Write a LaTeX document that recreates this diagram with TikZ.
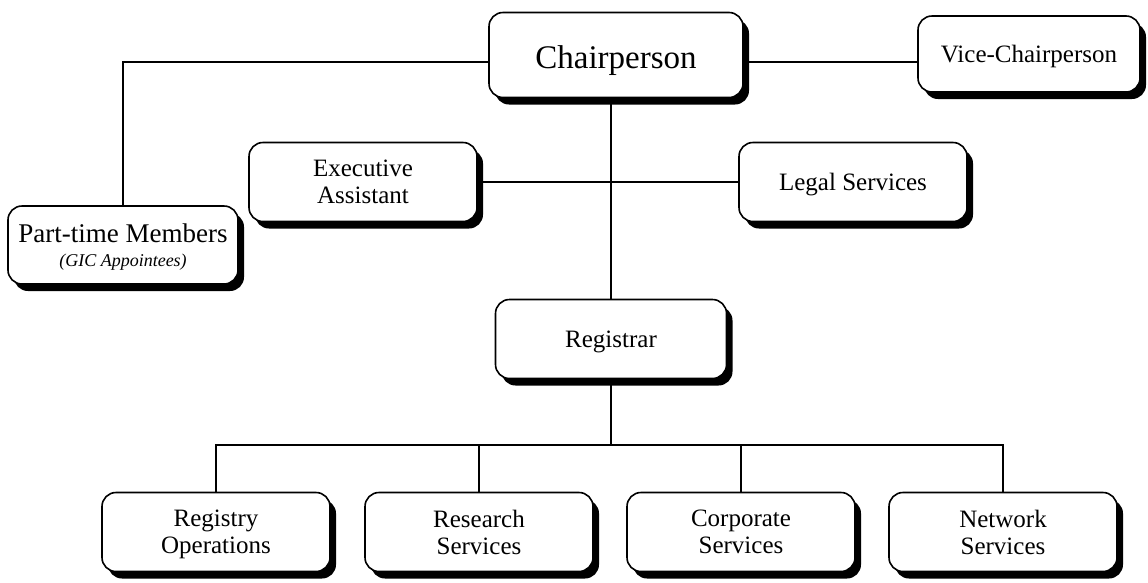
\documentclass[tikz,border=0pt]{standalone}
\usepackage{fontspec}
\setmainfont{Liberation Serif}
\usetikzlibrary{shadows}
\begin{document}
\begin{tikzpicture}[x=1pt, y=-1pt,
		orgbox/.style={draw, line width=1.6pt, fill=white, rounded corners=14pt,
			minimum width=228pt, minimum height=79pt, align=center, text depth=0pt, font=\fontsize{25}{27}\selectfont,
			drop shadow={shadow xshift=6pt, shadow yshift=-7pt, fill=black, opacity=1}},
		link/.style={line width=1.3pt}]

				\useasboundingbox (0,0) rectangle (1148,582);

				\node [orgbox, minimum width=254pt, minimum height=85pt, font=\fontsize{33}{36}\selectfont] (chair) at (616,55) {\raisebox{-4pt}{Chairperson}};
				\node [orgbox, minimum width=222pt, minimum height=76pt] (vice) at (1029,54) {Vice-Chairperson};
				\node [orgbox] (exec) at (363,182) {Executive\\Assistant};
				\node [orgbox] (legal) at (853,182) {Legal Services};
				\node [orgbox, minimum width=230pt, minimum height=78pt, font=\fontsize{27}{26}\selectfont] (parttime) at (123,245) {Part-time Members\\[-2pt]{\fontsize{18}{20}\selectfont\itshape(GIC Appointees)}};
				\node [orgbox, minimum width=231pt] (registrar) at (611,339) {Registrar};

				\node [orgbox] (registry) at (216,532) {Registry\\Operations};
				\node [orgbox] (research) at (479,532) {Research\\Services};
				\node [orgbox] (corporate) at (741,532) {Corporate\\Services};
				\node [orgbox] (network) at (1003,532) {Network\\Services};

				\coordinate (split) at (611,445);

				\draw [link] (chair.east |- 0,62) -- (vice.west |- 0,62);
				\draw [link] (chair.west |- 0,62) -| (parttime.north);
				\draw [link] (exec.east) -- (legal.west);
				\draw [link] (registrar.north) -- (registrar.north |- chair.south);
				\draw [link] (registrar.south) -- (split);
				\draw [link] (registry.north) |- (split) -| (network.north);
				\draw [link] (research.north) -- (research.north |- split);
				\draw [link] (corporate.north) -- (corporate.north |- split);
			\end{tikzpicture}
\end{document}
